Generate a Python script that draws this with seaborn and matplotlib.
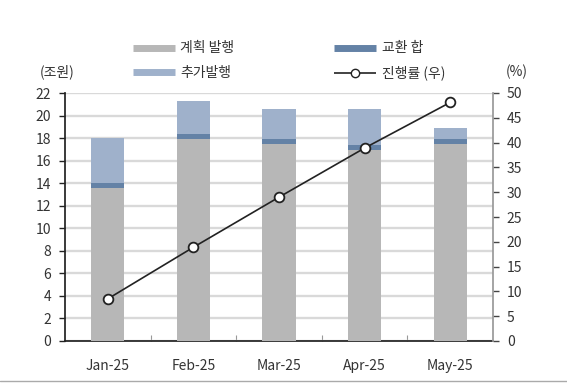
import matplotlib
matplotlib.use('Agg')
import matplotlib.pyplot as plt
from matplotlib.lines import Line2D
import seaborn as sns
import pandas as pd
import numpy as np

# 데이터
months = ['Jan-25', 'Feb-25', 'Mar-25', 'Apr-25', 'May-25']
plan_issue = [13.6, 17.9, 17.45, 16.95, 17.45]    # 계획 발행
exchange = [0.45, 0.5, 0.45, 0.45, 0.45]          # 교환 합
extra_issue = [4.0, 2.9, 2.7, 3.15, 1.0]          # 추가발행
progress = [8.5, 18.9, 29.0, 38.9, 48.1]          # 진행률 (우), %

sns.set_theme(style='white')
plt.rcParams['font.family'] = ['Noto Sans CJK KR', 'DejaVu Sans']
plt.rcParams['axes.unicode_minus'] = False

txt = '#333333'
c_plan = '#b7b7b7'
c_exch = '#6482a6'
c_extra = '#9fb1cb'
fs = 10

df = pd.DataFrame({'월': months, '계획': plan_issue, '교환': exchange, '추가': extra_issue})
df['계획+교환'] = df['계획'] + df['교환']
df['합계'] = df['계획+교환'] + df['추가']

fig = plt.figure(figsize=(5.67, 3.87), dpi=100)
ax = fig.add_axes([65/567, 1 - 341/387, 428/567, 248/387])

# 겹쳐 그리기로 누적 막대 표현
w = 0.39
bar_kw = dict(width=w, saturation=1, ax=ax, linewidth=0, edgecolor='none')
sns.barplot(data=df, x='월', y='합계', color=c_extra, zorder=2, **bar_kw)
sns.barplot(data=df, x='월', y='계획+교환', color=c_exch, zorder=3, **bar_kw)
sns.barplot(data=df, x='월', y='계획', color=c_plan, zorder=4, **bar_kw)

ax.set_xlim(-0.5, 4.5)
ax.set_ylim(0, 22)
ax.set_yticks(range(0, 23, 2))
ax.yaxis.grid(True, color='#d9d9d9', linewidth=1.7, zorder=0)
ax.set_axisbelow(True)
ax.set_xlabel('')
ax.set_ylabel('')
ax.tick_params(axis='y', left=True, length=4, width=1, color='#222222',
               labelsize=fs, labelcolor=txt, pad=6)
ax.tick_params(axis='x', bottom=False, labelsize=fs, labelcolor=txt, pad=7)
ax.set_xticks(np.arange(0.5, 4.5, 1), minor=True)
ax.tick_params(axis='x', which='minor', bottom=True, direction='in', length=4,
               width=0.8, color='#999999')
for s in ['top', 'right']:
    ax.spines[s].set_visible(False)
ax.spines['left'].set_color('#222222')
ax.spines['bottom'].set_color('#222222')

# 진행률 (우)
ax2 = ax.twinx()
sns.lineplot(x=np.arange(len(months)), y=progress, ax=ax2, color='#222222', linewidth=1.2,
             marker='o', markersize=7, markerfacecolor='white', markeredgecolor='#222222',
             markeredgewidth=1.3, zorder=5)
ax2.set_ylim(0, 50)
ax2.set_yticks(range(0, 51, 5))
ax2.tick_params(axis='y', right=True, length=4, width=1, color='#444444',
                labelsize=fs, labelcolor=txt, pad=6)
for s in ['top', 'left', 'bottom']:
    ax2.spines[s].set_visible(False)
ax2.spines['right'].set_color('#999999')
ax2.grid(False)

fig.text(57/567, 1 - 72/387, '(조원)', ha='center', va='center', fontsize=fs, color=txt)
fig.text(517/567, 1 - 72/387, '(%)', ha='center', va='center', fontsize=fs, color=txt)

handles = [
    Line2D([], [], color=c_plan, linewidth=5, solid_capstyle='butt'),
    Line2D([], [], color=c_extra, linewidth=5, solid_capstyle='butt'),
    Line2D([], [], color=c_exch, linewidth=5, solid_capstyle='butt'),
    Line2D([], [], color='#222222', linewidth=1.2, marker='o', markersize=6,
           markerfacecolor='white', markeredgecolor='#222222', solid_capstyle='butt'),
]
labels = ['계획 발행', '추가발행', '교환 합', '진행률 (우)']
fig.legend(handles, labels, ncol=2, loc='center', bbox_to_anchor=(289/567, 1 - 61/387),
           frameon=False, fontsize=fs, handlelength=3.0, handletextpad=0.4,
           columnspacing=7.2, labelspacing=0.75, labelcolor=txt)

# 하단 구분선
fig.add_artist(Line2D([0, 1], [1 - 381/387, 1 - 381/387], color='#aaaaaa', linewidth=1))

fig.savefig('out.png', dpi=100)
